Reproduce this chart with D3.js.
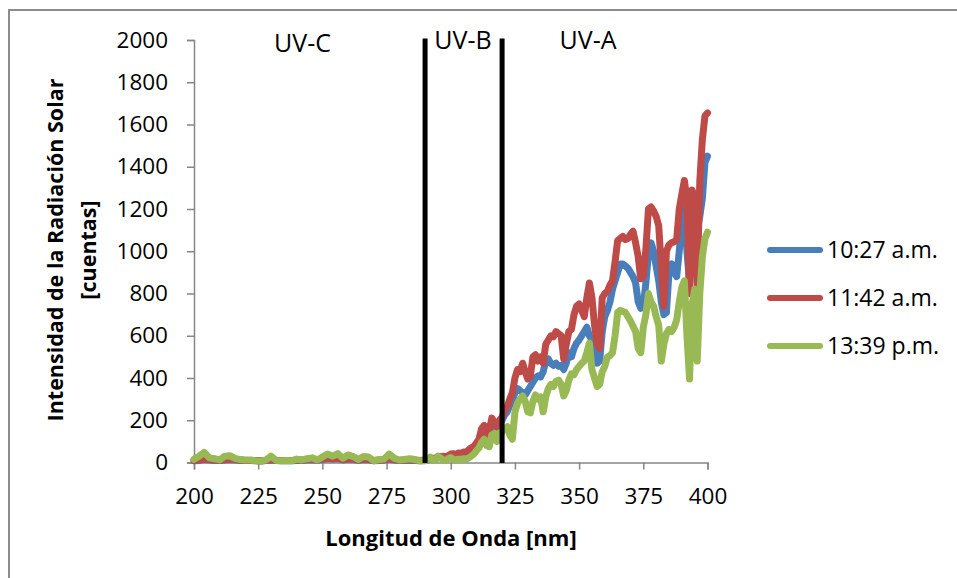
<!DOCTYPE html>
<html lang="es">
<head>
<meta charset="UTF-8"/>
<title>Radiación UV</title>
<script src="https://d3js.org/d3.v7.min.js"></script>
<style>
    body { margin: 0; background: #fff; }
    text { font-family: "Open Sans", sans-serif; fill: #000; }
    .axis path, .axis line { stroke: #868686; stroke-width: 1.5px; fill: none; }
    .axis text { font-size: 22.5px; }
    .serie { fill: none; stroke-width: 7px; stroke-linejoin: round; stroke-linecap: round; }
</style>
</head>
<body>
<svg width="957" height="578"></svg>
<script>
// longitudes de onda: cada 2 nm hasta 288, luego cada 1 nm
const longitudes = d3.range(200, 290, 2).concat(d3.range(290, 401));

const series = ["10:27 a.m.", "11:42 a.m.", "13:39 p.m."];
const colores = ["#4a7ebb", "#be4b48", "#98b954"];

const bajo1027 = [8,10,14,12,10,9,12,14,12,10,9,9,8,7,9,12,9,8,9,8,10,10,12,13,10,14,18,16,18,12,16,14,10,14,13,8,10,11,16,12,9,10,11,10,8];
const bajo1142 = [10,12,16,14,12,10,14,16,14,12,10,10,9,8,10,14,10,9,10,9,12,12,14,15,12,16,20,18,20,14,18,16,12,16,15,10,12,13,18,14,10,12,13,12,10];
const bajo1339 = [15,30,48,22,18,12,30,32,20,14,12,12,8,6,12,30,10,8,10,8,16,12,18,22,12,26,40,30,42,20,36,28,14,28,26,8,14,16,40,20,12,14,18,14,8];

const alto1027 = [10,12,15,18,20,22,24,26,25,28,35,38,35,40,40,45,45,52,60,68,85,100,140,150,115,135,185,170,160,180,
    200,225,240,270,290,330,350,340,330,320,340,360,380,400,410,405,430,480,490,470,460,470,455,460,440,470,520,500,540,565,
    580,600,620,640,600,580,500,470,480,620,690,720,760,820,860,900,940,940,930,920,900,880,850,760,730,740,850,990,1040,1000,
    930,860,760,700,710,900,940,900,880,1000,1150,1210,1000,850,1000,1060,1100,1165,1250,1420,1450];
const alto1142 = [12,15,18,20,22,25,28,30,28,32,40,42,38,45,42,50,48,60,70,75,92,110,160,175,125,150,210,190,170,200,
    215,250,265,300,330,400,440,430,470,430,395,410,500,510,480,500,470,560,580,600,595,620,610,600,490,560,620,630,700,740,
    750,720,690,780,850,780,650,560,540,780,800,810,840,860,950,1050,1060,1070,1055,1060,1080,1095,1040,975,870,880,1010,1200,1210,1190,
    1165,1120,930,740,1000,1030,1040,1045,1055,1200,1270,1335,1240,800,1290,1250,840,1330,1530,1640,1655];
const alto1339 = [8,14,25,12,10,30,22,12,10,18,24,14,12,16,14,18,16,22,30,40,55,70,95,110,80,75,130,138,100,140,
    145,160,170,130,110,240,280,300,315,290,240,235,290,320,300,310,240,310,350,370,360,385,390,370,315,340,390,420,415,440,
    455,470,480,520,565,440,400,360,370,430,455,500,505,520,600,710,720,715,710,690,670,645,620,540,520,640,700,800,760,740,
    690,650,480,560,610,630,620,640,675,760,830,860,600,395,750,820,480,800,975,1060,1090];

const valores = [bajo1027.concat(alto1027), bajo1142.concat(alto1142), bajo1339.concat(alto1339)];

const ticksX = [200, 225, 250, 275, 300, 325, 350, 375, 400];
const ticksY = [0, 200, 400, 600, 800, 1000, 1200, 1400, 1600, 1800, 2000];
const limitesUV = [290, 320];
const etiquetasUV = ["UV-C", "UV-B", "UV-A"];

let svg = d3.select("svg");

// marco exterior
svg.append("rect").attr("x", 9).attr("y", 10).attr("width", 960).attr("height", 580)
    .attr("fill", "none").attr("stroke", "#8c8c8c").attr("stroke-width", 2);

let x = d3.scaleLinear().domain([200, 400]).range([194, 707.5]);
let y = d3.scaleLinear().domain([0, 2000]).range([462.5, 40]);

let ejeY = svg.append("g").attr("class", "axis")
    .attr("transform", "translate(194,0)")
    .call(d3.axisLeft(y).tickValues(ticksY).tickFormat(d3.format("d"))
        .tickSize(7).tickSizeOuter(7).tickPadding(19));

let ejeX = svg.append("g").attr("class", "axis")
    .attr("transform", "translate(0,462.5)")
    .call(d3.axisBottom(x).tickValues(ticksX).tickSize(7).tickSizeOuter(7).tickPadding(13));
ejeX.selectAll("text").attr("dy", "0.95em");

let linea = d3.line()
    .x(function(d, i) { return x(longitudes[i]); })
    .y(function(d) { return y(d); });

valores.forEach(function(v, k) {
    svg.append("path").attr("class", "serie")
        .attr("d", linea(v))
        .attr("stroke", colores[k]);
});

// separaciones UV
svg.selectAll(".limite").data(limitesUV).enter().append("line")
    .attr("class", "limite")
    .attr("x1", function(d) { return x(d); }).attr("x2", function(d) { return x(d); })
    .attr("y1", y(0) + 0.5).attr("y2", 38.5)
    .attr("stroke", "#000").attr("stroke-width", 5);

let posUV = [[302.5, 51.5], [463, 48.5], [588, 48.5]];
svg.selectAll(".uv").data(etiquetasUV).enter().append("text")
    .attr("class", "uv")
    .attr("x", function(d, i) { return posUV[i][0]; })
    .attr("y", function(d, i) { return posUV[i][1]; })
    .attr("text-anchor", "middle")
    .style("font-size", "25px")
    .text(function(d) { return d; });

// títulos
svg.append("text").attr("x", 451).attr("y", 546).attr("text-anchor", "middle")
    .style("font-size", "22px").style("font-weight", "bold")
    .text("Longitud de Onda [nm]");

let tituloY = svg.append("g").attr("transform", "translate(0,250) rotate(-90)");
tituloY.append("text").attr("x", 0).attr("y", 63).attr("text-anchor", "middle")
    .style("font-size", "21.5px").style("font-weight", "bold")
    .text("Intensidad de la Radiación Solar");
tituloY.append("text").attr("x", 0).attr("y", 96).attr("text-anchor", "middle")
    .style("font-size", "21.5px").style("font-weight", "bold")
    .text("[cuentas]");

// leyenda
let leyenda = svg.selectAll(".leyenda").data(series).enter().append("g")
    .attr("class", "leyenda")
    .attr("transform", function(d, i) { return "translate(0," + (250 + i * 48) + ")"; });
leyenda.append("line").attr("x1", 770).attr("x2", 820).attr("y1", 0).attr("y2", 0)
    .attr("stroke", function(d, i) { return colores[i]; })
    .attr("stroke-width", 6).attr("stroke-linecap", "round");
leyenda.append("text").attr("x", 827).attr("y", 8)
    .style("font-size", "23px")
    .text(function(d) { return d; });
</script>
</body>
</html>
